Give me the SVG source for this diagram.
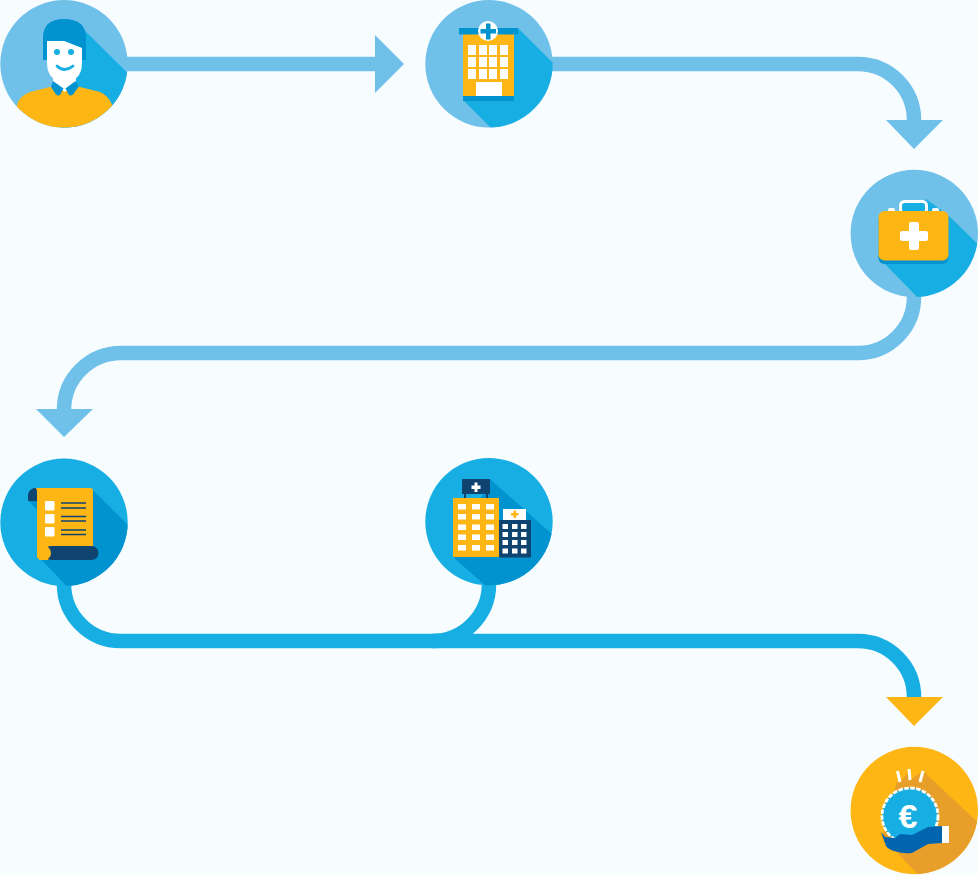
<svg xmlns="http://www.w3.org/2000/svg" width="978" height="875" viewBox="0 0 978 875">
<style>
.lb{fill:#6fc1ea}.cy{fill:#17afe3}.db{fill:#0093cf}.nv{fill:#0f4470}.yl{fill:#feb614}.wh{fill:#fff}.or{fill:#e89f2a}
.conn{fill:none;stroke-width:14.5}
.ll{stroke:#0f4470;stroke-width:1.6}
</style>
<defs>
<clipPath id="c1"><circle cx="64" cy="63.800" r="63.700"/></clipPath>
<clipPath id="c2"><circle cx="489" cy="63.800" r="63.700"/></clipPath>
<clipPath id="c3"><circle cx="914.300" cy="233.500" r="63.700"/></clipPath>
<clipPath id="c4"><circle cx="64" cy="522.300" r="63.700"/></clipPath>
<clipPath id="c5"><circle cx="489" cy="521.600" r="63.700"/></clipPath>
<clipPath id="c6"><circle cx="914.300" cy="810.500" r="63.700"/></clipPath>
</defs>
<rect width="978" height="875" fill="#f7fcff"/>
<g id="connectors">
<path class="conn" stroke="#6fc1ea" d="M120,64H378"/>
<polygon class="lb" points="375,35 404,64 375,93"/>
<path class="conn" stroke="#6fc1ea" d="M545,64H858A56,56 0 0 1 914,120V124"/>
<polygon class="lb" points="886,120 943,120 914,149"/>
<path class="conn" stroke="#6fc1ea" d="M914,290V297A56,56 0 0 1 858,353H121A57,57 0 0 0 64,410V412"/>
<polygon class="lb" points="36,409 93,409 64,437"/>
<path class="conn" stroke="#17afe3" d="M64,580V584A57,57 0 0 0 121,641H858A56,56 0 0 1 914,697V700"/>
<path class="conn" stroke="#17afe3" d="M489,580V584A57,57 0 0 1 432,641"/>
<polygon class="yl" points="886,697 943,697 914,726"/>
</g>
<g id="node-person">
<circle class="lb" cx="64" cy="63.800" r="63.700"/>
<g clip-path="url(#c1)">
<polygon class="cy" points="82,28 135,80 135,135 60,135 60,60"/>
<path class="yl" d="M14,135L17,105Q19,96 30,92L50,87H80L100,92Q109,96 112,105L115,135Z"/>
</g>
<path class="db" d="M43,60V38Q43,19 64,19Q86,19 86,38V60H82V48L64,41H47V60Z"/>
<path class="wh" d="M47,41H64L82,48V62Q82,74 76,78V84L65,92L53,84V78Q47,74 47,62Z"/>
<path class="db" d="M53,81L63.500,88.500L60,95Q58,96 56,94.500L51,87Z"/>
<path class="db" d="M75.500,81L65.500,88.500L69,95Q71,96 73,94.500L78.500,87Z"/>
<circle class="cy" cx="57" cy="52" r="3"/><circle class="cy" cx="71" cy="52" r="3"/>
<path d="M57,66Q64,73 73,66" fill="none" stroke="#17afe3" stroke-width="2.800" stroke-linecap="round"/>
</g>
<g id="node-hospital">
<circle class="lb" cx="489" cy="63.800" r="63.700"/>
<g clip-path="url(#c2)"><polygon class="cy" points="518,28 562,72 562,140 503,140 463,100"/></g>
<rect class="yl" x="463" y="33" width="51" height="64"/>
<rect class="db" x="459" y="28" width="59" height="6.500"/>
<rect class="db" x="463" y="96" width="51" height="5"/>
<circle class="wh" cx="488" cy="31" r="10"/>
<path class="db" d="M486,23.500h4.500v5.500h5.500v4.500h-5.500v6h-4.500v-6h-5.500v-4.500h5.500z"/>
<g class="wh">
<rect x="468" y="45" width="8" height="10"/><rect x="479" y="45" width="8" height="10"/><rect x="489" y="45" width="8" height="10"/><rect x="500" y="45" width="8" height="10"/>
<rect x="468" y="57" width="8" height="10"/><rect x="479" y="57" width="8" height="10"/><rect x="489" y="57" width="8" height="10"/><rect x="500" y="57" width="8" height="10"/>
<rect x="468" y="69" width="8" height="10"/><rect x="479" y="69" width="8" height="10"/><rect x="489" y="69" width="8" height="10"/><rect x="500" y="69" width="8" height="10"/>
<rect x="476" y="82" width="26" height="14"/>
</g>
</g>
<g id="node-medkit">
<circle class="lb" cx="914.300" cy="233.500" r="63.700"/>
<g clip-path="url(#c3)"><polygon class="cy" points="926,199 948,215 990,256 990,310 930,310 878,257"/></g>
<rect class="wh" x="888" y="208" width="7" height="6" rx="2"/>
<rect class="wh" x="932" y="208" width="7" height="6" rx="2"/>
<rect x="900.500" y="201.500" width="26" height="12" rx="4" class="cy" stroke="#fff" stroke-width="3"/>
<rect class="db" x="878.500" y="214" width="70" height="50" rx="6"/>
<rect class="yl" x="878.500" y="211" width="70" height="49.500" rx="6"/>
<path class="wh" d="M911,222h6a2,2 0 0 1 2,2v7h7a2,2 0 0 1 2,2v6a2,2 0 0 1-2,2h-7v7a2,2 0 0 1-2,2h-6a2,2 0 0 1-2-2v-7h-7a2,2 0 0 1-2-2v-6a2,2 0 0 1 2-2h7v-7a2,2 0 0 1 2-2z"/>
</g>
<g id="node-scroll">
<circle class="cy" cx="64" cy="522.300" r="63.700"/>
<g clip-path="url(#c4)"><polygon class="db" points="93,490 135,532 135,595 75,595 37,555 37,510 28,500"/></g>
<path class="nv" d="M38,488H35.500A7.500,7.500 0 0 0 28,495.500V501H38Z"/>
<path class="yl" d="M35,488H90Q93,488 93,491V548H51V560H42Q37,560 37,555V492Q37,488 35,488Z"/>
<rect class="nv" x="44" y="546" width="54.500" height="14" rx="7"/>
<path class="yl" d="M37,546H44A7,7 0 0 1 44,560H42Q37,560 37,555Z"/>
<g class="wh">
<rect x="45" y="501" width="9.500" height="9.500" rx="1"/><rect x="45" y="514" width="9.500" height="9.500" rx="1"/><rect x="45" y="527" width="9.500" height="9.500" rx="1"/>
</g>
<g class="ll">
<path d="M61,503H86M61,508H86M61,516.500H86M61,521H86M61,530H86M61,534.500H86"/>
</g>
</g>
<g id="node-buildings">
<circle class="cy" cx="489" cy="521.600" r="63.700"/>
<g clip-path="url(#c5)"><polygon class="db" points="490,479 562,543 562,595 496,595 453,557"/></g>
<rect class="nv" x="462" y="479" width="28" height="15"/>
<rect class="nv" x="464" y="494" width="2" height="5"/><rect class="nv" x="486" y="494" width="2" height="5"/>
<path class="wh" d="M474.500,482.500h3v3h3v3.500h-3v3h-3v-3h-3v-3.500h3z"/>
<rect class="yl" x="453" y="498" width="46" height="59"/>
<g class="wh">
<rect x="458" y="504" width="8" height="5.500"/><rect x="472" y="504" width="8" height="5.500"/><rect x="486" y="504" width="8" height="5.500"/>
<rect x="458" y="514" width="8" height="5.500"/><rect x="472" y="514" width="8" height="5.500"/><rect x="486" y="514" width="8" height="5.500"/>
<rect x="458" y="524.500" width="8" height="5.500"/><rect x="472" y="524.500" width="8" height="5.500"/><rect x="486" y="524.500" width="8" height="5.500"/>
<rect x="458" y="534.500" width="8" height="5.500"/><rect x="472" y="534.500" width="8" height="5.500"/><rect x="486" y="534.500" width="8" height="5.500"/>
<rect x="458" y="545" width="8" height="5.500"/><rect x="472" y="545" width="8" height="5.500"/><rect x="486" y="545" width="8" height="5.500"/>
<rect x="503" y="509" width="23" height="11"/>
</g>
<path class="yl" d="M513.500,510.500h2.500v2.500h2.500v2.500h-2.500v2.500h-2.500v-2.500h-2.500v-2.500h2.500z"/>
<rect class="nv" x="499" y="520" width="32" height="37.500"/>
<g class="wh">
<rect x="502.500" y="524" width="5.500" height="5"/><rect x="512" y="524" width="5.500" height="5"/><rect x="521" y="524" width="5.500" height="5"/>
<rect x="502.500" y="532" width="5.500" height="5"/><rect x="512" y="532" width="5.500" height="5"/><rect x="521" y="532" width="5.500" height="5"/>
<rect x="502.500" y="540" width="5.500" height="5"/><rect x="512" y="540" width="5.500" height="5"/><rect x="521" y="540" width="5.500" height="5"/>
<rect x="502.500" y="548.500" width="5.500" height="5"/><rect x="512" y="548.500" width="5.500" height="5"/><rect x="521" y="548.500" width="5.500" height="5"/>
</g>
</g>
<g id="node-payment">
<circle class="yl" cx="914.300" cy="810.500" r="63.700"/>
<g clip-path="url(#c6)"><polygon class="or" points="923,771 985,829 985,885 928,885 882,837 897,781 899,783 909,772 910,780"/></g>
<path d="M897.500,771L900,782M909,769L910,780M923,771L920,782" stroke="#fff" stroke-width="3" fill="none"/>
<circle class="cy" cx="910" cy="816" r="28"/>
<circle cx="910" cy="816" r="28" fill="none" stroke="#fff" stroke-width="2.800" stroke-dasharray="4.500 1.500"/>
<text x="908" y="828" font-family="Liberation Sans, sans-serif" font-weight="700" font-size="34" text-anchor="middle" class="wh">€</text>
<path d="M881,832L885,837L895,838L900,834L912,835L928,827L942,826V843L928,844L912,853Q904,854 894,851Q888,849 886,846Z" fill="#0065ae"/>
<rect class="wh" x="942" y="826" width="7" height="17"/>
</g>
</svg>
